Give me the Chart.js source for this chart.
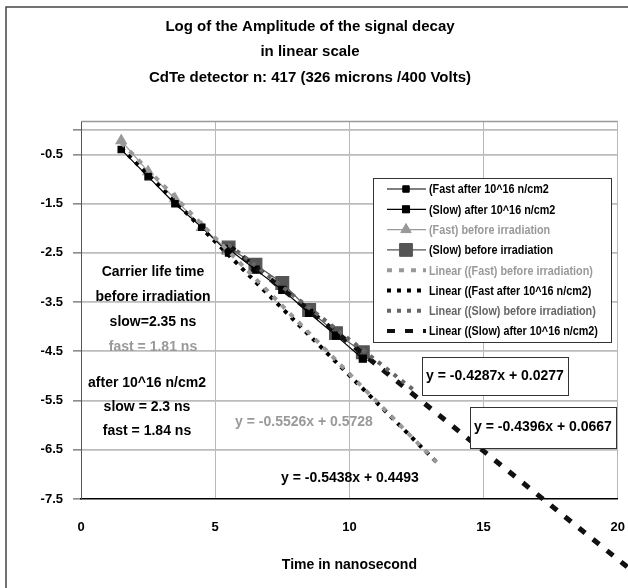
<!DOCTYPE html>
<html>
<head>
<meta charset="utf-8">
<script src="https://cdn.jsdelivr.net/npm/chart.js@4.4.1/dist/chart.umd.min.js"></script>
<style>
  html, body { margin: 0; padding: 0; background: #fff; }
  #wrap { position: relative; width: 628px; height: 588px; }
</style>
</head>
<body>
<div id="wrap"><canvas id="chart" width="628" height="588"></canvas></div>
<script>
const FONT = "'Liberation Sans', Arial, sans-serif";

// measured points (time in ns, log amplitude)
const xEarly = [1.5, 2.5, 3.5, 4.5, 5.5];
const xLate = [5.5, 6.5, 7.5, 8.5, 9.5, 10.5];
const fastAfter = [-0.40, -0.95, -1.50, -1.98, -2.50];
const fastBefore = [-0.22, -0.85, -1.40, -1.98, -2.45];
const slowAfter = [-2.42, -2.84, -3.25, -3.72, -4.18, -4.65];
const slowBefore = [-2.39, -2.74, -3.11, -3.66, -4.13, -4.52];

// trendline end points as seen on the picture
const trendFastBeforeX = [1.5, 13.3];
const trendFastBeforeY = [-0.26, -6.78];
const trendFastAfterX = [1.5, 13.3];
const trendFastAfterY = [-0.37, -6.78];
const trendSlowBeforeX = [5.5, 12.5];
const trendSlowBeforeY = [-2.33, -5.33];
const trendSlowAfterX = [5.5, 20.6];
const trendSlowAfterY = [-2.35, -8.99];

const xTicks = [0, 5, 10, 15, 20];
const yTicks = [-7.5, -6.5, -5.5, -4.5, -3.5, -2.5, -1.5, -0.5, 0];

const legendLabels = [
  '(Fast after 10^16 n/cm2',
  '(Slow) after 10^16 n/cm2',
  '(Fast) before irradiation',
  '(Slow) before irradiation',
  'Linear ((Fast) before irradiation)',
  'Linear ((Fast after 10^16 n/cm2)',
  'Linear ((Slow) before irradiation)',
  'Linear ((Slow) after 10^16 n/cm2)'
];
const legendColors = ['#000', '#000', '#999', '#000', '#999', '#000', '#666', '#000'];

const titleLines = [
  'Log of the Amplitude of the signal decay',
  'in linear scale',
  'CdTe detector n: 417 (326 microns /400 Volts)'
];

const pts = (xs, ys) => xs.map((x, i) => ({ x, y: ys[i] }));

// free text on the plot
const notes = [
  { text: 'Carrier life time', x: 153, y: 272, color: '#000' },
  { text: 'before irradiation', x: 153, y: 297, color: '#000' },
  { text: 'slow=2.35 ns', x: 153, y: 322, color: '#000' },
  { text: 'fast = 1.81 ns', x: 153, y: 347, color: '#999' },
  { text: 'after 10^16 n/cm2', x: 147, y: 383, color: '#000' },
  { text: 'slow = 2.3 ns', x: 147, y: 407, color: '#000' },
  { text: 'fast = 1.84 ns', x: 147, y: 431, color: '#000' },
  { text: 'y = -0.5526x + 0.5728', x: 304, y: 422, color: '#999' },
  { text: 'y = -0.5438x + 0.4493', x: 350, y: 478, color: '#000' }
];
const boxes = [
  { text: 'y = -0.4287x + 0.0277', x: 422, y: 357, w: 146, h: 38 },
  { text: 'y = -0.4396x + 0.0667', x: 470, y: 407, w: 146, h: 41 }
];

const framePlugin = {
  id: 'frame',
  beforeDraw(chart) {
    const ctx = chart.ctx;
    ctx.save();
    ctx.fillStyle = '#fff';
    ctx.fillRect(0, 0, chart.width, chart.height);
    ctx.strokeStyle = '#444';
    ctx.lineWidth = 1.5;
    ctx.beginPath();
    ctx.moveTo(6, chart.height);
    ctx.lineTo(6, 7);
    ctx.lineTo(chart.width, 7);
    ctx.stroke();
    ctx.restore();
  },
  beforeDatasetsDraw(chart) {
    const { ctx, chartArea: a } = chart;
    ctx.save();
    ctx.strokeStyle = '#999';
    ctx.lineWidth = 1.5;
    ctx.beginPath();
    ctx.moveTo(a.left, a.top);
    ctx.lineTo(a.right, a.top);
    ctx.stroke();
    ctx.restore();
  }
};

const notesPlugin = {
  id: 'notes',
  afterDatasetsDraw(chart) {
    const ctx = chart.ctx;
    ctx.save();
    ctx.textAlign = 'center';
    ctx.textBaseline = 'middle';
    ctx.font = `bold 14px ${FONT}`;
    notes.forEach(n => {
      ctx.fillStyle = n.color;
      ctx.fillText(n.text, n.x, n.y);
    });
    boxes.forEach(b => {
      ctx.fillStyle = '#fff';
      ctx.fillRect(b.x, b.y, b.w, b.h);
      ctx.strokeStyle = '#333';
      ctx.lineWidth = 1;
      ctx.strokeRect(b.x + 0.5, b.y + 0.5, b.w, b.h);
      ctx.fillStyle = '#000';
      ctx.fillText(b.text, b.x + b.w / 2, b.y + b.h / 2);
    });

    // legend
    const lx = 373, ly = 178, lw = 238, lh = 164;
    ctx.fillStyle = '#fff';
    ctx.fillRect(lx, ly, lw, lh);
    ctx.strokeStyle = '#333';
    ctx.lineWidth = 1;
    ctx.strokeRect(lx + 0.5, ly + 0.5, lw, lh);
    ctx.font = `bold 12px ${FONT}`;
    ctx.textAlign = 'left';
    chart.data.datasets.forEach((ds, i) => {
      const y = ly + 11 + i * 20.3;
      ctx.save();
      ctx.strokeStyle = ds.borderColor;
      ctx.lineWidth = Math.min(ds.borderWidth, 4);
      ctx.setLineDash(ds.borderDash || []);
      ctx.beginPath();
      ctx.moveTo(387, y);
      ctx.lineTo(426, y);
      ctx.stroke();
      ctx.restore();
      if (ds.pointRadius > 0) {
        ctx.fillStyle = ds.backgroundColor;
        ctx.strokeStyle = ds.borderColor;
        Chart.helpers.drawPoint(ctx, {
          pointStyle: ds.pointStyle, radius: ds.pointRadius, rotation: 0, borderWidth: 1
        }, 406, y);
        ctx.fill();
      }
      ctx.save();
      ctx.translate(429, y + 1);
      ctx.scale(0.9, 1);
      ctx.fillStyle = legendColors[i];
      ctx.fillText(legendLabels[i], 0, 0);
      ctx.restore();
    });
    ctx.restore();
  }
};

const series = (label, data, color, style, radius) => ({
  label, data, showLine: true,
  borderColor: color, backgroundColor: color, borderWidth: 1.2,
  pointStyle: style, pointRadius: radius, pointHoverRadius: radius,
  pointBackgroundColor: color, pointBorderColor: color, order: 2
});
const trend = (label, data, color, width, dash) => ({
  label, data, showLine: true,
  borderColor: color, backgroundColor: color, borderWidth: width,
  borderDash: dash, borderCapStyle: 'butt', pointRadius: 0, pointHoverRadius: 0,
  order: 1, clip: false
});

new Chart(document.getElementById('chart'), {
  type: 'scatter',
  data: {
    datasets: [
      series(legendLabels[0], pts(xEarly, fastAfter), '#000', 'rect', 4.5),
      series(legendLabels[1], pts(xLate, slowAfter), '#000', 'rect', 5),
      series(legendLabels[2], pts(xEarly, fastBefore), '#999', 'triangle', 6),
      series(legendLabels[3], pts(xLate, slowBefore), '#555', 'rect', 9),
      trend(legendLabels[4], pts(trendFastBeforeX, trendFastBeforeY), '#999', 4, [5, 7]),
      trend(legendLabels[5], pts(trendFastAfterX, trendFastAfterY), '#000', 4, [4, 6]),
      trend(legendLabels[6], pts(trendSlowBeforeX, trendSlowBeforeY), '#666', 4, [4, 6]),
      trend(legendLabels[7], pts(trendSlowAfterX, trendSlowAfterY), '#111', 5, [8, 10])
    ]
  },
  options: {
    responsive: false,
    animation: false,
    layout: { padding: { top: 14, left: 0, right: 8, bottom: 0 } },
    plugins: {
      legend: { display: false },
      tooltip: { enabled: false },
      title: {
        display: true,
        text: titleLines,
        color: '#000',
        font: { family: FONT, size: 15, weight: 'bold', lineHeight: 1.7 },
        padding: { top: 0, bottom: 31 }
      }
    },
    scales: {
      x: {
        type: 'linear', min: 0, max: 20,
        afterBuildTicks: s => { s.ticks = xTicks.map(v => ({ value: v })); },
        afterFit: s => { s.height = 89; },
        grid: { color: '#b8b8b8', lineWidth: 1, drawTicks: true, tickLength: 21, tickColor: 'rgba(0,0,0,0)' },
        border: { color: '#000', width: 1.5 },
        ticks: { color: '#000', padding: 0, font: { family: FONT, size: 13, weight: 'bold' } },
        title: {
          display: true, text: 'Time in nanosecond', color: '#000',
          font: { family: FONT, size: 14, weight: 'bold' },
          padding: { top: 0, bottom: 14.6 }
        }
      },
      y: {
        type: 'linear', min: -7.5, max: 0.17,
        afterBuildTicks: s => { s.ticks = yTicks.map(v => ({ value: v })); },
        afterFit: s => { s.width = 81; },
        grid: {
          color: c => (c.tick && c.tick.value === -7.5 ? 'rgba(0,0,0,0)' : '#bcbcbc'),
          lineWidth: 1.8, tickLength: 8, tickColor: '#444', tickWidth: 1
        },
        border: { color: '#555', width: 1 },
        ticks: {
          color: '#000', padding: 10,
          font: { family: FONT, size: 13, weight: 'bold' },
          callback: v => (v === 0 ? '' : String(v))
        }
      }
    }
  },
  plugins: [framePlugin, notesPlugin]
});
</script>
</body>
</html>
